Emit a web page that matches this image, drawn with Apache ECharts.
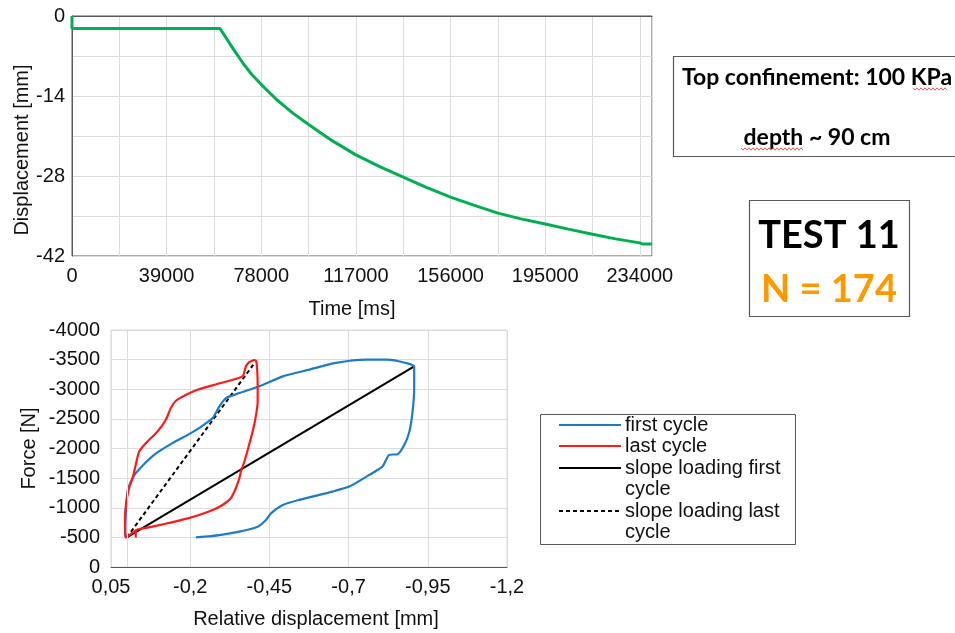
<!DOCTYPE html>
<html><head><meta charset="utf-8">
<script src="https://cdn.jsdelivr.net/npm/echarts@6/dist/echarts.min.js"></script>
<style>html,body{margin:0;padding:0;background:#fff}#c{width:955px;height:633px}</style>
</head><body><div id="c"></div>
<script>
// ---- Top chart: displacement vs time ----
const timeMs = [0, 0, 61000, 63000, 66500, 70700, 74000, 78000, 84500, 91000, 97500, 107500, 117000, 127000, 136500, 146000, 156000, 165500, 175500, 185000, 195000, 204500, 214500, 224000, 234000, 235000, 239000];
const dispMm = [0, -2.2, -2.2, -3.5, -5.8, -8.4, -10.2, -12.0, -14.7, -17.0, -19.0, -21.9, -24.3, -26.4, -28.2, -30.0, -31.7, -33.1, -34.5, -35.5, -36.4, -37.3, -38.2, -39.0, -39.7, -39.9, -39.9];
const topXTickLabels = [0, 39000, 78000, 117000, 156000, 195000, 234000];
const topYTickLabels = [0, -14, -28, -42];

// ---- Bottom chart: force vs relative displacement ----
const firstCycleDisp = [-0.218, -0.292, -0.355, -0.413, -0.439, -0.455, -0.492, -0.544, -0.649, -0.702, -0.765, -0.807, -0.828, -0.855, -0.876, -0.892, -0.902, -0.907, -0.907, -0.881, -0.823, -0.755, -0.660, -0.576, -0.492, -0.418, -0.355, -0.313, -0.292, -0.271, -0.228, -0.202, -0.144, -0.086, -0.028, -0.013, -0.002, 0.003, 0.005, 0.003];
const firstCycleForce = [-500, -539, -596, -680, -793, -906, -1047, -1132, -1273, -1357, -1554, -1695, -1893, -1904, -2062, -2288, -2626, -3021, -3387, -3444, -3500, -3500, -3444, -3331, -3218, -3049, -2936, -2851, -2710, -2513, -2344, -2259, -2090, -1893, -1583, -1442, -1273, -934, -596, -500];

const lastCycleDisp = [-0.028, -0.028, -0.065, -0.118, -0.192, -0.228, -0.271, -0.302, -0.328, -0.344, -0.355, -0.360, -0.371, -0.386, -0.402, -0.413, -0.413, -0.409, -0.402, -0.392, -0.386, -0.376, -0.365, -0.297, -0.223, -0.192, -0.155, -0.139, -0.123, -0.097, -0.065, -0.039, -0.028, -0.018, -0.007, 0.003, 0.006, 0.005, 0.0, -0.028];
const lastCycleForce = [-500, -618, -664, -726, -821, -878, -962, -1047, -1160, -1329, -1498, -1611, -1780, -2062, -2400, -2795, -3021, -3472, -3494, -3472, -3460, -3387, -3218, -3105, -2992, -2919, -2806, -2682, -2485, -2288, -2118, -1949, -1724, -1498, -1329, -1047, -765, -500, -511, -618];

const slopeFirstDisp = [0.0, -0.907];
const slopeFirstForce = [-500, -3387];
const slopeLastDisp = [0.0, -0.400];
const slopeLastForce = [-500, -3420];

const bottomXTickLabels = ['0,05', '-0,2', '-0,45', '-0,7', '-0,95', '-1,2'];
const seriesNames = ['first cycle', 'last cycle', 'slope loading first cycle', 'slope loading last cycle'];

const zip = (a, b) => a.map((v, i) => [v, b[i]]);
const FONT = 'Liberation Sans';
const TXT = '#111';
const FS = 20;

const chart = echarts.init(document.getElementById('c'), null, {renderer: 'canvas'});

function wavy(x0, x1, y) {
  const pts = [];
  let up = true;
  for (let x = x0; x <= x1; x += 2) { pts.push([x, y + (up ? -1.2 : 1.2)]); up = !up; }
  return pts;
}

const legendRows = [
  {y: 425, color: '#1c7cc8', dash: 'solid', lines: ['first cycle']},
  {y: 446, color: '#ff1a1a', dash: 'solid', lines: ['last cycle']},
  {y: 468, color: '#000', dash: 'solid', lines: ['slope loading first', 'cycle']},
  {y: 511, color: '#000', dash: [4, 3], lines: ['slope loading last', 'cycle']}
];
const legendEls = [{
  type: 'rect', shape: {x: 540.5, y: 414.5, width: 255, height: 130},
  style: {fill: '#fff', stroke: '#595959', lineWidth: 1}, z: 10
}];
legendRows.forEach(r => {
  legendEls.push({type: 'line', shape: {x1: 559, y1: r.y, x2: 621, y2: r.y},
    style: {stroke: r.color, lineWidth: 2, lineDash: r.dash === 'solid' ? null : r.dash}, z: 11});
  r.lines.forEach((t, i) => legendEls.push({type: 'text', x: 625, y: r.y + i * 21.5, z: 11,
    style: {text: t, font: FS + 'px "' + FONT + '"', fill: TXT, textAlign: 'left', textVerticalAlign: 'middle'}}));
});

const option = {
  animation: false,
  backgroundColor: '#fff',
  textStyle: {fontFamily: FONT},
  grid: [
    {left: 72, top: 16, width: 580, height: 240, show: true, borderColor: '#595959', borderWidth: 1, containLabel: false},
    {left: 111, top: 330, width: 396, height: 237, show: true, borderColor: '#d9d9d9', borderWidth: 1, containLabel: false}
  ],
  xAxis: [
    {gridIndex: 0, type: 'value', min: 0, max: 239000, interval: 19500,
     name: 'Time [ms]', nameLocation: 'middle', nameGap: 43,
     nameTextStyle: {fontSize: FS, color: TXT, fontFamily: FONT, padding: [0, 20, 0, 0]},
     axisLine: {lineStyle: {color: '#595959'}}, axisTick: {show: false},
     axisLabel: {fontSize: FS, color: TXT, margin: 10, fontFamily: FONT,
       formatter: v => topXTickLabels.indexOf(Math.round(v)) >= 0 ? String(Math.round(v)) : ''},
     splitLine: {lineStyle: {color: '#dcdcdc'}}},
    {gridIndex: 1, type: 'value', min: -1.2, max: 0.05, interval: 0.25, inverse: true,
     name: 'Relative displacement [mm]', nameLocation: 'middle', nameGap: 42,
     nameTextStyle: {fontSize: FS, color: TXT, fontFamily: FONT, padding: [0, 0, 0, 14]},
     axisLine: {lineStyle: {color: '#595959'}}, axisTick: {show: false},
     axisLabel: {fontSize: FS, color: TXT, margin: 10, fontFamily: FONT,
       formatter: v => {
         const idx = Math.round((0.05 - v) / 0.25);
         return bottomXTickLabels[idx] !== undefined ? bottomXTickLabels[idx] : '';
       }},
     splitLine: {lineStyle: {color: '#dcdcdc'}}}
  ],
  yAxis: [
    {gridIndex: 0, type: 'value', min: -42, max: 0, interval: 7,
     name: 'Displacement [mm]', nameLocation: 'middle', nameGap: 40, nameMoveOverlap: false,
     nameTextStyle: {fontSize: FS, color: TXT, fontFamily: FONT, padding: [0, 28, 0, 0]},
     axisLine: {show: true, lineStyle: {color: '#595959'}}, axisTick: {show: false},
     axisLabel: {fontSize: FS, color: TXT, margin: 7, fontFamily: FONT,
       formatter: v => topYTickLabels.indexOf(Math.round(v)) >= 0 ? String(Math.round(v)) : ''},
     splitLine: {lineStyle: {color: '#dcdcdc'}}},
    {gridIndex: 1, type: 'value', min: -4000, max: 0, interval: 500, inverse: true,
     name: 'Force [N]', nameLocation: 'middle', nameGap: 72,
     nameTextStyle: {fontSize: FS, color: TXT, fontFamily: FONT},
     axisLine: {show: false}, axisTick: {show: false},
     axisLabel: {fontSize: FS, color: TXT, margin: 11, fontFamily: FONT, formatter: v => String(v)},
     splitLine: {lineStyle: {color: '#dcdcdc'}}}
  ],
  legend: {show: false},
  series: [
    {type: 'line', name: 'disp', xAxisIndex: 0, yAxisIndex: 0, data: zip(timeMs, dispMm),
     showSymbol: false, lineStyle: {color: '#00b050', width: 3}, z: 3},
    {type: 'line', name: 'zeroGrid', xAxisIndex: 1, yAxisIndex: 1, data: [], z: 1,
     markLine: {silent: true, symbol: 'none', label: {show: false}, animation: false,
       lineStyle: {color: '#dcdcdc', type: 'solid', width: 1}, data: [{xAxis: 0}]}},
    {type: 'line', name: seriesNames[2], xAxisIndex: 1, yAxisIndex: 1, data: zip(slopeFirstDisp, slopeFirstForce),
     showSymbol: false, lineStyle: {color: '#000', width: 2}, z: 3},
    {type: 'line', name: seriesNames[3], xAxisIndex: 1, yAxisIndex: 1, data: zip(slopeLastDisp, slopeLastForce),
     showSymbol: false, lineStyle: {color: '#000', width: 2, type: [4, 3]}, z: 3},
    {type: 'line', name: seriesNames[0], xAxisIndex: 1, yAxisIndex: 1, data: zip(firstCycleDisp, firstCycleForce),
     showSymbol: false, smooth: 0.2, lineStyle: {color: '#1c7cc8', width: 2.2}, z: 4},
    {type: 'line', name: seriesNames[1], xAxisIndex: 1, yAxisIndex: 1, data: zip(lastCycleDisp, lastCycleForce),
     showSymbol: false, smooth: 0.2, lineStyle: {color: '#ff1a1a', width: 2.2}, z: 4}
  ],
  graphic: {elements: [
    {type: 'rect', shape: {x: 673.5, y: 56.5, width: 300, height: 100}, style: {fill: '#fff', stroke: '#595959', lineWidth: 1.2}, z: 10},
    {type: 'text', x: 817, y: 78, z: 11, style: {text: 'Top confinement: 100 KPa', font: 'bold 23px Lato', fill: '#000', textAlign: 'center', textVerticalAlign: 'middle'}},
    {type: 'text', x: 817, y: 138, z: 11, style: {text: 'depth ~ 90 cm', font: 'bold 23px Lato', fill: '#000', textAlign: 'center', textVerticalAlign: 'middle'}},
    {type: 'polyline', shape: {points: wavy(913, 947, 89)}, style: {stroke: '#e03030', lineWidth: 0.8, fill: null}, z: 12},
    {type: 'polyline', shape: {points: wavy(741, 803, 149)}, style: {stroke: '#e03030', lineWidth: 0.8, fill: null}, z: 12},
    {type: 'rect', shape: {x: 749.5, y: 200.5, width: 160, height: 116}, style: {fill: '#fff', stroke: '#595959', lineWidth: 1.2}, z: 10},
    {type: 'text', x: 829, y: 236, z: 11, style: {text: 'TEST 11', font: 'bold 38px Lato', fill: '#000', textAlign: 'center', textVerticalAlign: 'middle'}},
    {type: 'text', x: 829, y: 290, z: 11, style: {text: 'N = 174', font: 'bold 38px Lato', fill: '#ff9900', textAlign: 'center', textVerticalAlign: 'middle'}}
  ].concat(legendEls)}
};
chart.setOption(option);
</script>
</body></html>
